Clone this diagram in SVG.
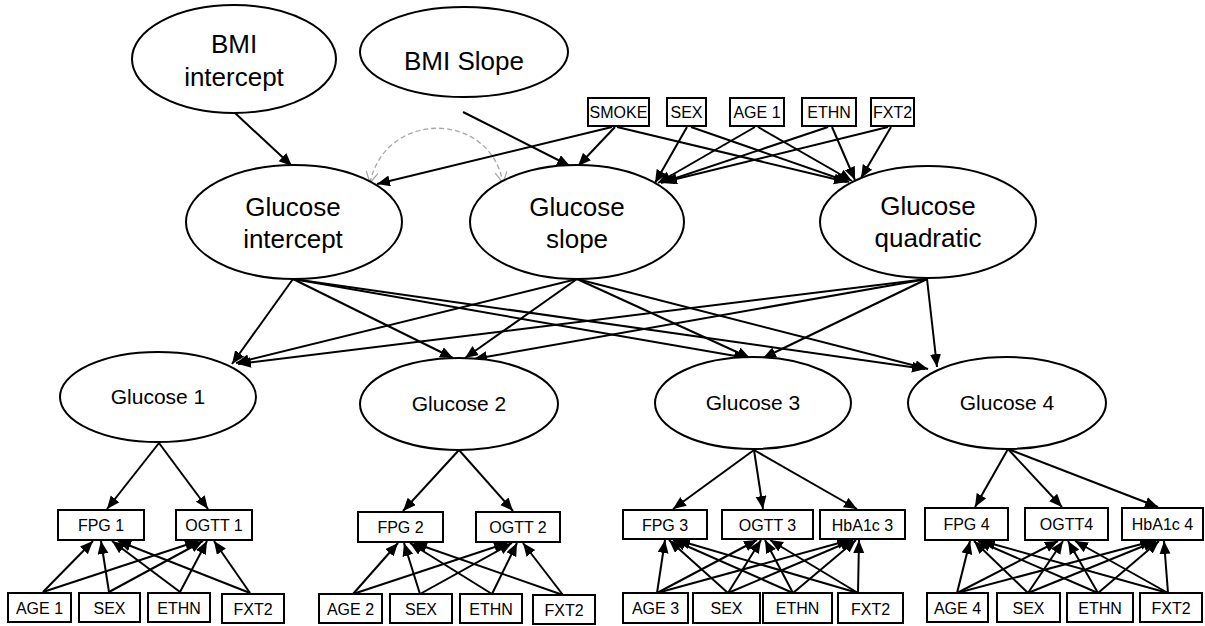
<svg xmlns="http://www.w3.org/2000/svg" width="1205" height="626" viewBox="0 0 1205 626">
<defs>
<style>
.n{fill:#fff;stroke:#000;stroke-width:2}
.b{fill:#fff;stroke:#000;stroke-width:2}
.L{font-family:"Liberation Sans",Arial,sans-serif;font-size:26px;text-anchor:middle;fill:#000}
.M{font-family:"Liberation Sans",Arial,sans-serif;font-size:21px;text-anchor:middle;fill:#000}
.S{font-family:"Liberation Sans",Arial,sans-serif;font-size:16px;text-anchor:middle;fill:#000}
.e line{stroke:#000;stroke-width:2;marker-end:url(#ah)}
.d{fill:none;stroke:#a6a6a6;stroke-width:1.3;stroke-dasharray:5 3;marker-start:url(#oh);marker-end:url(#oh)}
</style>
<marker id="ah" markerUnits="userSpaceOnUse" markerWidth="14" markerHeight="12" refX="13" refY="5.5" orient="auto" viewBox="0 0 14 12">
<path d="M0,0 L13,5.5 L0,11 z" fill="#000"/>
</marker>
<marker id="oh" markerUnits="userSpaceOnUse" markerWidth="14" markerHeight="14" refX="11" refY="6" orient="auto-start-reverse" viewBox="0 0 14 14">
<path d="M0,0 L11,6 L0,12" fill="none" stroke="#a6a6a6" stroke-width="1.2"/>
</marker>
</defs>
<rect width="1205" height="626" fill="#fff"/>

<g id="connectors">
<path class="d" d="M370,183 C385,110 490,110 503,183"/>
<g class="e">
<line x1="235" y1="113" x2="292" y2="166"/>
<line x1="463" y1="112" x2="570" y2="166"/>
<line x1="612" y1="127" x2="377" y2="184"/>
<line x1="615" y1="127" x2="578" y2="166"/>
<line x1="617" y1="127" x2="847" y2="182"/>
<line x1="687" y1="127" x2="655" y2="183"/>
<line x1="691" y1="127" x2="849" y2="182"/>
<line x1="755" y1="127" x2="658" y2="183"/>
<line x1="758" y1="127" x2="852" y2="181"/>
<line x1="828" y1="127" x2="661" y2="183"/>
<line x1="832" y1="127" x2="855" y2="180"/>
<line x1="888" y1="127" x2="664" y2="182"/>
<line x1="891" y1="127" x2="861" y2="178"/>

<line x1="293" y1="279" x2="232" y2="364"/>
<line x1="293" y1="279" x2="453" y2="358"/>
<line x1="293" y1="279" x2="747" y2="358"/>
<line x1="293" y1="279" x2="925" y2="369"/>
<line x1="577" y1="279" x2="236" y2="363"/>
<line x1="577" y1="279" x2="465" y2="358"/>
<line x1="577" y1="279" x2="750" y2="358"/>
<line x1="577" y1="279" x2="928" y2="369"/>
<line x1="927" y1="279" x2="238" y2="364"/>
<line x1="927" y1="279" x2="474" y2="359"/>
<line x1="927" y1="279" x2="763" y2="358"/>
<line x1="927" y1="279" x2="937" y2="367"/>

<line x1="159" y1="443" x2="107" y2="509"/>
<line x1="159" y1="443" x2="208" y2="509"/>
<line x1="459" y1="450" x2="403" y2="511"/>
<line x1="459" y1="450" x2="513" y2="511"/>
<line x1="754" y1="450" x2="673" y2="509"/>
<line x1="754" y1="450" x2="763" y2="509"/>
<line x1="754" y1="450" x2="857" y2="509"/>
<line x1="1008" y1="449" x2="975" y2="507"/>
<line x1="1008" y1="449" x2="1062" y2="507"/>
<line x1="1008" y1="449" x2="1158" y2="507"/>

<line x1="43" y1="592" x2="93" y2="541"/>
<line x1="43" y1="592" x2="198" y2="541"/>
<line x1="109" y1="592" x2="101" y2="541"/>
<line x1="109" y1="592" x2="203" y2="541"/>
<line x1="180" y1="592" x2="112" y2="541"/>
<line x1="180" y1="592" x2="207" y2="541"/>
<line x1="250" y1="593" x2="118" y2="541"/>
<line x1="250" y1="593" x2="214" y2="541"/>

<line x1="353" y1="594" x2="398" y2="543"/>
<line x1="353" y1="594" x2="507" y2="543"/>
<line x1="420" y1="594" x2="404" y2="543"/>
<line x1="420" y1="594" x2="512" y2="543"/>
<line x1="492" y1="594" x2="410" y2="543"/>
<line x1="492" y1="594" x2="517" y2="543"/>
<line x1="563" y1="595" x2="414" y2="543"/>
<line x1="563" y1="595" x2="523" y2="543"/>

<line x1="657" y1="593" x2="665" y2="540"/>
<line x1="657" y1="593" x2="757" y2="540"/>
<line x1="657" y1="593" x2="850" y2="540"/>
<line x1="728" y1="593" x2="669" y2="540"/>
<line x1="728" y1="593" x2="761" y2="540"/>
<line x1="728" y1="593" x2="853" y2="540"/>
<line x1="793" y1="593" x2="673" y2="540"/>
<line x1="793" y1="593" x2="765" y2="540"/>
<line x1="793" y1="593" x2="856" y2="540"/>
<line x1="858" y1="593" x2="677" y2="540"/>
<line x1="858" y1="593" x2="770" y2="540"/>
<line x1="858" y1="593" x2="859" y2="540"/>

<line x1="957" y1="593" x2="970" y2="541"/>
<line x1="957" y1="593" x2="1058" y2="541"/>
<line x1="957" y1="593" x2="1153" y2="541"/>
<line x1="1028" y1="593" x2="974" y2="541"/>
<line x1="1028" y1="593" x2="1063" y2="541"/>
<line x1="1028" y1="593" x2="1156" y2="541"/>
<line x1="1098" y1="593" x2="978" y2="541"/>
<line x1="1098" y1="593" x2="1068" y2="541"/>
<line x1="1098" y1="593" x2="1159" y2="541"/>
<line x1="1168" y1="593" x2="982" y2="541"/>
<line x1="1168" y1="593" x2="1075" y2="541"/>
<line x1="1168" y1="593" x2="1164" y2="541"/>
</g>
</g>

<g id="bmi-intercept"><ellipse class="n" cx="234" cy="59" rx="102" ry="54"/><text class="L" x="234" y="53">BMI</text><text class="L" x="234" y="86">intercept</text></g>
<g id="bmi-slope"><ellipse class="n" cx="464" cy="52" rx="104" ry="45"/><text class="L" x="464" y="70">BMI Slope</text></g>
<g id="glucose-intercept"><ellipse class="n" cx="294" cy="222" rx="108" ry="57"/><text class="L" x="293" y="216">Glucose</text><text class="L" x="293" y="248">intercept</text></g>
<g id="glucose-slope"><ellipse class="n" cx="577" cy="222" rx="107" ry="57"/><text class="L" x="577" y="216">Glucose</text><text class="L" x="577" y="248">slope</text></g>
<g id="glucose-quadratic"><ellipse class="n" cx="928" cy="222" rx="108" ry="56"/><text class="L" x="928" y="215">Glucose</text><text class="L" x="928" y="247">quadratic</text></g>

<g id="top-smoke"><rect class="b" x="588" y="98" width="61" height="28"/><text class="S" x="618.5" y="117.5">SMOKE</text></g>
<g id="top-sex"><rect class="b" x="667" y="98" width="39" height="28"/><text class="S" x="686.5" y="117.5">SEX</text></g>
<g id="top-age1"><rect class="b" x="730" y="98" width="54" height="28"/><text class="S" x="757" y="117.5">AGE 1</text></g>
<g id="top-ethn"><rect class="b" x="802" y="98" width="54" height="28"/><text class="S" x="829" y="117.5">ETHN</text></g>
<g id="top-fxt2"><rect class="b" x="871" y="98" width="43" height="28"/><text class="S" x="892.5" y="117.5">FXT2</text></g>

<g id="glucose1"><ellipse class="n" cx="158" cy="397" rx="98" ry="45"/><text class="M" x="158" y="404">Glucose 1</text></g>
<g id="glucose2"><ellipse class="n" cx="459" cy="404" rx="99" ry="46"/><text class="M" x="459" y="411">Glucose 2</text></g>
<g id="glucose3"><ellipse class="n" cx="753" cy="403" rx="98" ry="46"/><text class="M" x="753" y="410">Glucose 3</text></g>
<g id="glucose4"><ellipse class="n" cx="1007" cy="403" rx="99" ry="46"/><text class="M" x="1007" y="410">Glucose 4</text></g>

<g id="fpg1"><rect class="b" x="58" y="510" width="86" height="30"/><text class="S" x="101" y="531">FPG 1</text></g>
<g id="ogtt1"><rect class="b" x="176" y="510" width="76" height="30"/><text class="S" x="214" y="531">OGTT 1</text></g>
<g id="age1"><rect class="b" x="8" y="593" width="63" height="29"/><text class="S" x="39.5" y="613.5">AGE 1</text></g>
<g id="sex1"><rect class="b" x="79" y="593" width="61" height="29"/><text class="S" x="109.5" y="613.5">SEX</text></g>
<g id="ethn1"><rect class="b" x="148" y="593" width="62" height="29"/><text class="S" x="179" y="613.5">ETHN</text></g>
<g id="fxt2-1"><rect class="b" x="222" y="594" width="62" height="29"/><text class="S" x="253" y="614.5">FXT2</text></g>

<g id="fpg2"><rect class="b" x="358" y="512" width="85" height="30"/><text class="S" x="400.5" y="533">FPG 2</text></g>
<g id="ogtt2"><rect class="b" x="476" y="512" width="84" height="30"/><text class="S" x="518" y="533">OGTT 2</text></g>
<g id="age2"><rect class="b" x="319" y="594" width="63" height="29"/><text class="S" x="350.5" y="614.5">AGE 2</text></g>
<g id="sex2"><rect class="b" x="390" y="594" width="62" height="29"/><text class="S" x="421" y="614.5">SEX</text></g>
<g id="ethn2"><rect class="b" x="460" y="594" width="62" height="29"/><text class="S" x="491" y="614.5">ETHN</text></g>
<g id="fxt2-2"><rect class="b" x="533" y="595" width="62" height="29"/><text class="S" x="564" y="615.5">FXT2</text></g>

<g id="fpg3"><rect class="b" x="623" y="510" width="84" height="29"/><text class="S" x="665" y="530.5">FPG 3</text></g>
<g id="ogtt3"><rect class="b" x="722" y="510" width="91" height="29"/><text class="S" x="767.5" y="530.5">OGTT 3</text></g>
<g id="hba1c3"><rect class="b" x="820" y="510" width="85" height="29"/><text class="S" x="862.5" y="530.5">HbA1c 3</text></g>
<g id="age3"><rect class="b" x="623" y="593" width="65" height="30"/><text class="S" x="655.5" y="614">AGE 3</text></g>
<g id="sex3"><rect class="b" x="693" y="593" width="67" height="30"/><text class="S" x="726.5" y="614">SEX</text></g>
<g id="ethn3"><rect class="b" x="763" y="593" width="69" height="30"/><text class="S" x="797.5" y="614">ETHN</text></g>
<g id="fxt2-3"><rect class="b" x="838" y="593" width="65" height="30"/><text class="S" x="870.5" y="614.5">FXT2</text></g>

<g id="fpg4"><rect class="b" x="925" y="508" width="83" height="32"/><text class="S" x="966.5" y="530">FPG 4</text></g>
<g id="ogtt4"><rect class="b" x="1025" y="508" width="83" height="32"/><text class="S" x="1066.5" y="530">OGTT4</text></g>
<g id="hba1c4"><rect class="b" x="1122" y="508" width="81" height="32"/><text class="S" x="1162.5" y="530">HbA1c 4</text></g>
<g id="age4"><rect class="b" x="927" y="593" width="61" height="29"/><text class="S" x="957.5" y="613.5">AGE 4</text></g>
<g id="sex4"><rect class="b" x="997" y="593" width="63" height="29"/><text class="S" x="1028.5" y="613.5">SEX</text></g>
<g id="ethn4"><rect class="b" x="1067" y="593" width="66" height="29"/><text class="S" x="1100" y="613.5">ETHN</text></g>
<g id="fxt2-4"><rect class="b" x="1140" y="593" width="62" height="29"/><text class="S" x="1171" y="613.5">FXT2</text></g>
</svg>
